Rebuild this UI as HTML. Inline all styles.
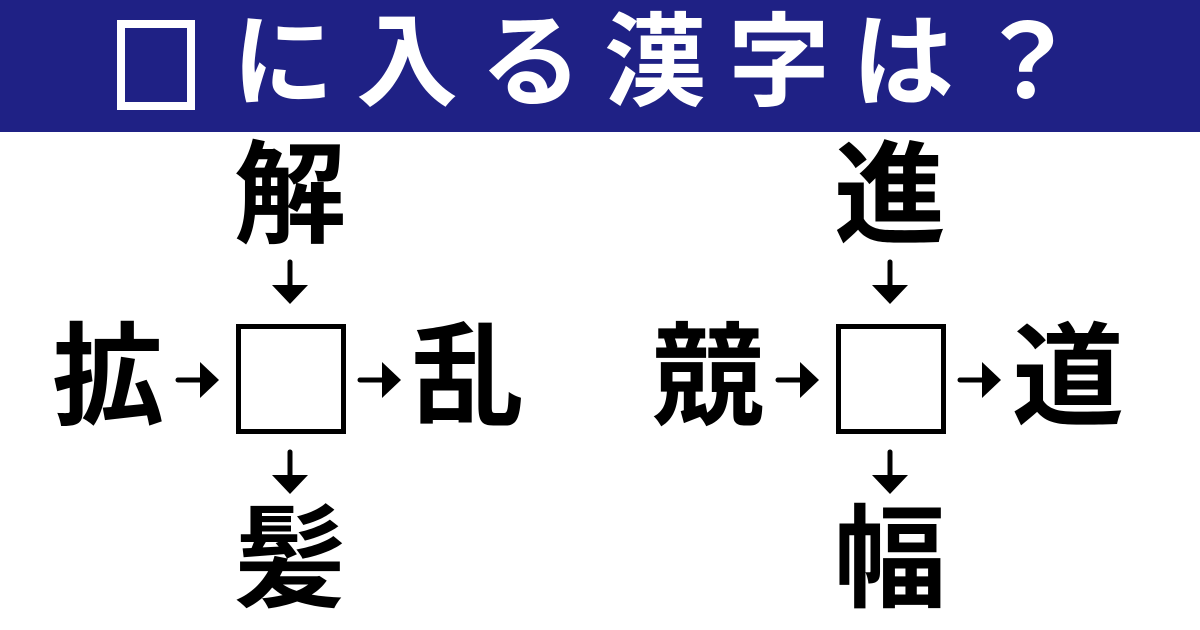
<!DOCTYPE html>
<html><head><meta charset="utf-8"><style>
*{margin:0;padding:0}
body{width:1200px;height:630px;background:#fff;position:relative;overflow:hidden;font-family:"Liberation Sans","Noto Sans CJK JP",sans-serif}
.hdr{position:absolute;left:0;top:0;width:1200px;height:132px;background:#1f2185}
.tb{position:absolute;left:117px;top:20px;width:62px;height:74px;border:8px solid #fff;color:transparent;font-size:10px}
.tt{position:absolute;left:232px;top:0;height:132px;line-height:126px;font-size:102px;font-weight:bold;color:#fff;letter-spacing:22px;white-space:nowrap}
.k{position:absolute;width:140px;text-align:center;font-size:112px;font-weight:bold;line-height:112px;color:#000}
</style></head><body>
<div class="hdr"></div>
<div class="tb">□</div>
<div class="tt">に入る漢字は？</div>

<div class="k" style="left:220px;top:140px">解</div>
<div class="k" style="left:38px;top:322px">拡</div>
<div class="k" style="left:398px;top:322px">乱</div>
<div class="k" style="left:220px;top:504px">髪</div>

<div class="k" style="left:820px;top:140px">進</div>
<div class="k" style="left:638px;top:322px">競</div>
<div class="k" style="left:998px;top:322px">道</div>
<div class="k" style="left:820px;top:504px">幅</div>

<svg width="1200" height="630" style="position:absolute;left:0;top:0">
<g id="a">
<rect x="238.5" y="326.5" width="105" height="105" fill="none" stroke="#000" stroke-width="5"/>
<line x1="290" y1="262" x2="290" y2="288" stroke="#000" stroke-width="5" stroke-linecap="round"/>
<polygon points="272,285 308,285 290,304" fill="#000"/>
<line x1="290" y1="452" x2="290" y2="478" stroke="#000" stroke-width="5" stroke-linecap="round"/>
<polygon points="272,475 308,475 290,494" fill="#000"/>
<line x1="178" y1="380" x2="204" y2="380" stroke="#000" stroke-width="5" stroke-linecap="round"/>
<polygon points="200,362 200,398 219,380" fill="#000"/>
<line x1="360" y1="380" x2="386" y2="380" stroke="#000" stroke-width="5" stroke-linecap="round"/>
<polygon points="382,362 382,398 401,380" fill="#000"/>
</g>
<use href="#a" x="600"/>
</svg>
</body></html>
